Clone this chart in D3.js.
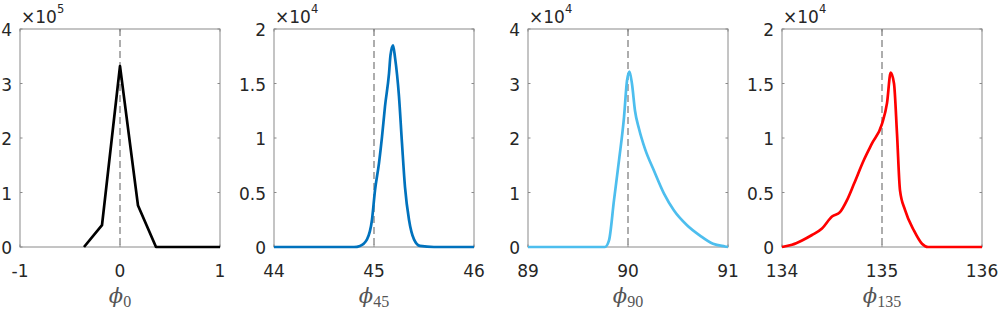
<!DOCTYPE html>
<html>
<head>
<meta charset="utf-8">
<script src="https://cdn.jsdelivr.net/npm/d3@7"></script>
<style>
  body { margin: 0; background: #fff; }
  .tick-label { font-family: "DejaVu Sans", "Liberation Sans", Arial, sans-serif; font-size: 17px; fill: #262626; }
  .xlabel { fill: #555; }
</style>
</head>
<body>
<svg id="chart" width="1000" height="309"></svg>
<script>
/* four histograms of the angle estimates, one panel per true angle */

// phi_0 (counts x 1e5)
var phi0X = [-0.36, -0.18, 0, 0.18, 0.36, 0.54, 0.72, 0.9, 1.0];
var phi0Y = [0, 0.40, 3.32, 0.76, 0, 0, 0, 0, 0];

// phi_45 (counts x 1e4)
var phi45X = [44, 44.5, 44.80, 44.86, 44.93, 44.98, 45.01, 45.05, 45.08, 45.11, 45.15, 45.165, 45.19, 45.21, 45.25, 45.28, 45.31, 45.35, 45.40, 45.46, 45.6, 46];
var phi45Y = [0, 0, 0, 0.01, 0.07, 0.25, 0.52, 0.77, 1.01, 1.29, 1.59, 1.76, 1.85, 1.74, 1.38, 0.95, 0.55, 0.25, 0.07, 0.01, 0, 0];

// phi_90 (counts x 1e4)
var phi90X = [89, 89.5, 89.77, 89.81, 89.86, 89.91, 89.96, 89.99, 90.015, 90.04, 90.07, 90.11, 90.17, 90.26, 90.36, 90.46, 90.59, 90.72, 90.85, 90.97, 91];
var phi90Y = [0, 0, 0, 0.12, 0.86, 1.59, 2.38, 3.05, 3.22, 2.99, 2.50, 2.17, 1.80, 1.40, 0.98, 0.67, 0.40, 0.21, 0.06, 0.01, 0];

// phi_135 (counts x 1e4)
var phi135X = [134, 134.10, 134.20, 134.30, 134.40, 134.50, 134.58, 134.65, 134.72, 134.82, 134.90, 135.00, 135.05, 135.087, 135.12, 135.15, 135.18, 135.23, 135.32, 135.40, 135.46, 135.7, 136];
var phi135Y = [0, 0.02, 0.06, 0.11, 0.17, 0.28, 0.32, 0.43, 0.58, 0.80, 0.95, 1.13, 1.32, 1.60, 1.50, 1.04, 0.52, 0.34, 0.15, 0.03, 0, 0, 0];

var xTicks0 = [-1, 0, 1], xTicks45 = [44, 45, 46], xTicks90 = [89, 90, 91], xTicks135 = [134, 135, 136];
var yTicksA = [0, 1, 2, 3, 4], yTicksB = [0, 0.5, 1, 1.5, 2];
var exponents = [5, 4, 4, 4];
var subs = ["0", "45", "90", "135"];
var refAngles = [0, 45, 90, 135];

var panels = [
  { x: phi0X,   y: phi0Y,   xt: xTicks0,   yt: yTicksA, color: "#000000", curve: d3.curveLinear },
  { x: phi45X,  y: phi45Y,  xt: xTicks45,  yt: yTicksB, color: "#0072BD", curve: d3.curveMonotoneX },
  { x: phi90X,  y: phi90Y,  xt: xTicks90,  yt: yTicksA, color: "#4DBEEE", curve: d3.curveMonotoneX },
  { x: phi135X, y: phi135Y, xt: xTicks135, yt: yTicksB, color: "#FF0000", curve: d3.curveMonotoneX }
];

var svg = d3.select("#chart");
var marginTop = 29, h = 218, w = 200;
var boxColor = "#8a8a8a";

panels.forEach(function(p, i) {
  var left = 20 + i * 254;
  var g = svg.append("g").attr("transform", "translate(" + left + "," + marginTop + ")");

  var x = d3.scaleLinear().domain([p.xt[0], p.xt[2]]).range([0, w]);
  var y = d3.scaleLinear().domain([0, p.yt[p.yt.length - 1]]).range([h, 0]);

  // box
  g.append("rect").attr("width", w).attr("height", h)
    .attr("fill", "none").attr("stroke", boxColor).attr("stroke-width", 1);

  // inward ticks, all four sides
  var tl = 2.5;
  p.xt.forEach(function(t) {
    g.append("line").attr("x1", x(t)).attr("x2", x(t)).attr("y1", h).attr("y2", h - tl).attr("stroke", boxColor);
    g.append("line").attr("x1", x(t)).attr("x2", x(t)).attr("y1", 0).attr("y2", tl).attr("stroke", boxColor);
  });
  p.yt.forEach(function(t) {
    g.append("line").attr("x1", 0).attr("x2", tl).attr("y1", y(t)).attr("y2", y(t)).attr("stroke", boxColor);
    g.append("line").attr("x1", w).attr("x2", w - tl).attr("y1", y(t)).attr("y2", y(t)).attr("stroke", boxColor);
  });

  // tick labels
  g.selectAll(".xt").data(p.xt).enter().append("text")
    .attr("class", "tick-label").attr("x", function(d) { return x(d); }).attr("y", h + 30)
    .attr("text-anchor", "middle").text(function(d) { return String(d); });
  g.selectAll(".yt").data(p.yt).enter().append("text")
    .attr("class", "tick-label").attr("x", -8).attr("y", function(d) { return y(d) + 7; })
    .attr("text-anchor", "end").text(function(d) { return String(d); });

  // exponent
  var ex = g.append("text").attr("class", "tick-label").attr("x", 1).attr("y", -6);
  ex.append("tspan").text("\u00d710");
  ex.append("tspan").attr("dy", -10.5).attr("font-size", 11.5).text(exponents[i]);

  // reference angle
  g.append("line").attr("x1", x(refAngles[i])).attr("x2", x(refAngles[i]))
    .attr("y1", 0).attr("y2", h).attr("stroke", "#777").attr("stroke-width", 1.2)
    .attr("stroke-dasharray", "7,4");

  // curve
  var line = d3.line().curve(p.curve)
    .x(function(d, k) { return x(p.x[k]); }).y(function(d) { return y(d); });
  g.append("path").datum(p.y).attr("d", line)
    .attr("fill", "none").attr("stroke", p.color).attr("stroke-width", 2.7)
    .attr("stroke-linejoin", "round");

  // x label
  var lab = g.append("text").attr("class", "xlabel").attr("x", w / 2).attr("y", h + 56)
    .attr("text-anchor", "middle");
  lab.append("tspan").attr("font-family", "DejaVu Serif, serif").attr("font-style", "italic")
    .attr("font-size", 21).text("\u03d5");
  lab.append("tspan").attr("font-family", "Liberation Serif, serif")
    .attr("font-size", 16).attr("dy", 4).text(subs[i]);
});
</script>
</body>
</html>
